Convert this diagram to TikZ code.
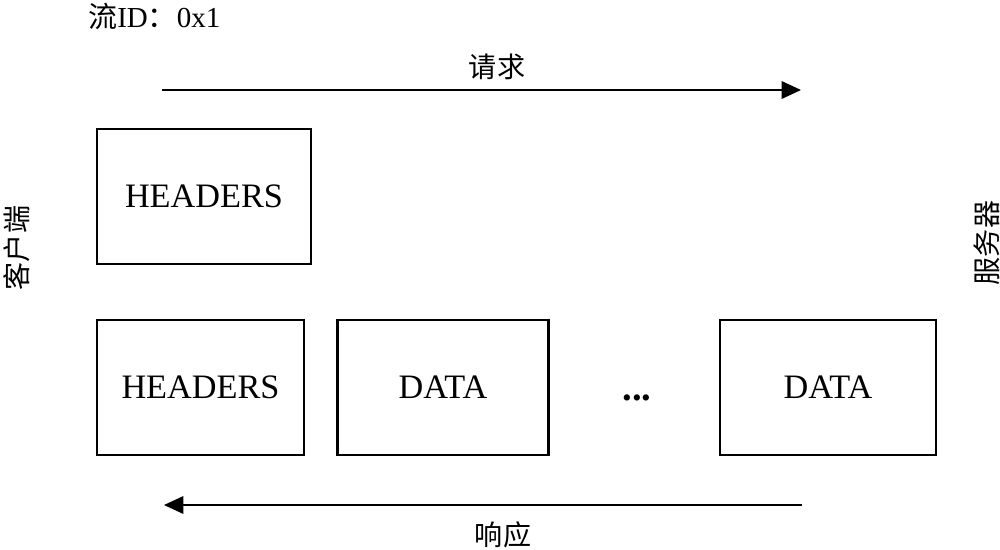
\documentclass[tikz,border=0pt]{standalone}
\usepackage{fontspec}
\setmainfont{Liberation Serif}
\newfontfamily\cjk{Noto Sans CJK SC}
\usetikzlibrary{positioning,arrows.meta}

\tikzset{
  frame/.style={draw, line width=1.4pt, inner sep=0pt, minimum height=2.7cm,
    font=\fontsize{19.5}{22}\selectfont},
  msg/.style={line width=0.8pt, -{Triangle[length=11pt,width=10pt]}},
  lbl/.style={font=\cjk\fontsize{16}{18}\selectfont}
}

\begin{document}
\begin{tikzpicture}[x=0.02cm, y=-0.02cm]
  \useasboundingbox (0,0) rectangle (1000,549);

  \node[anchor=west, inner sep=0pt, font=\fontsize{16.5}{18}\selectfont] (sid) at (88,16) {{\cjk 流}ID{\cjk ：}0x1};

  % request
  \coordinate (rq0) at (162,90);
  \coordinate (rq1) at (801,90);
  \draw[msg] (rq0) -- (rq1);
  \node[lbl] (req) at (497,67) {请求};

  \node[frame, minimum width=4.28cm] (h0) at (204,196.5) {HEADERS};

  \node[frame, minimum width=4.14cm] (h1) at (200.5,387.5) {HEADERS};
  \node[frame, minimum width=4.22cm, right=0.62cm of h1] (d1) {DATA};
  \node[frame, minimum width=4.32cm] (d2) at (828,387.5) {DATA};
  \node[font=\fontsize{22}{24}\selectfont] (dots) at (637,398) {\textbf{...}};

  % response
  \coordinate (rs0) at (802,505);
  \coordinate (rs1) at (164,505);
  \draw[msg] (rs0) -- (rs1);
  \node[lbl] (resp) at (503,535) {响应};

  \node[lbl, rotate=90] (cli) at (17,248) {客户端};
  \node[lbl, rotate=90] (srv) at (987,243) {服务器};
\end{tikzpicture}
\end{document}
